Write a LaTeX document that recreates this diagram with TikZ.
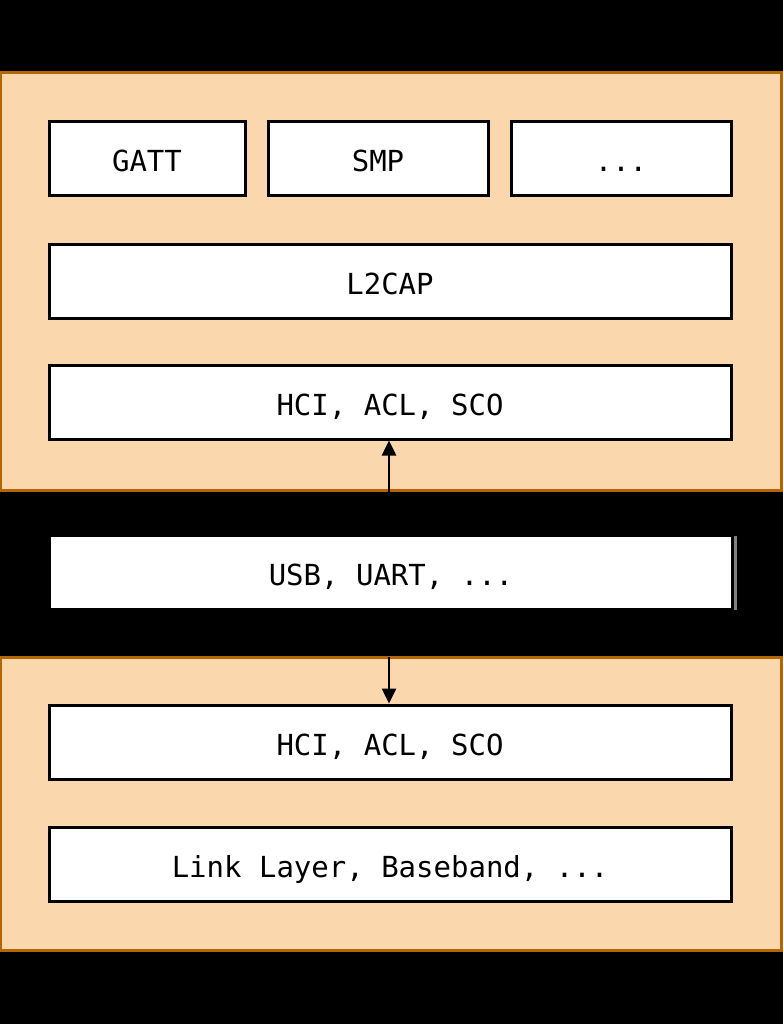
\documentclass[tikz,border=0pt]{standalone}
\usepackage{fontspec}
\setmonofont{DejaVu Sans Mono}
\usetikzlibrary{arrows.meta}
\definecolor{panelfill}{HTML}{FAD7AC}
\definecolor{panelline}{HTML}{B46504}
\tikzset{
  panel/.style={fill=panelfill, draw=panelline, line width=3pt},
  layer/.style={fill=white, draw=black, line width=3pt, inner sep=0pt,
    text height=28pt, text depth=2pt,
    font=\ttfamily\fontsize{29}{32}\selectfont},
  link/.style={line width=2.5pt, -{Triangle[length=15pt,width=14pt]}},
}
\begin{document}
\begin{tikzpicture}[x=1pt,y=-1pt]
\useasboundingbox (0,0) rectangle (783,1024);
\fill[black] (0,0) rectangle (783,1024);
% panels
\draw[panel] (0,73) rectangle (781,490);
\draw[panel] (0,657) rectangle (781,950);
% top stack
\node[layer, minimum width=196pt, minimum height=74pt] (gatt) at (147,159) {GATT};
\node[layer, minimum width=220pt, minimum height=74pt] (smp) at (378,159) {SMP};
\node[layer, minimum width=220pt, minimum height=74pt] (more) at (621,159) {...};
\node[layer, minimum width=682pt, minimum height=74pt] (l2cap) at (390,281) {L2CAP};
\node[layer, minimum width=682pt, minimum height=74pt] (hcitop) at (390,402) {HCI, ACL, SCO};
% transport
\node[layer, draw=none, minimum width=680pt, minimum height=71pt] (usb) at (391,572.5) {USB, UART, ...};
\draw[gray, line width=3pt] ([xshift=3pt]usb.north east) -- ([xshift=3pt]usb.south east);
% bottom stack
\node[layer, minimum width=682pt, minimum height=74pt] (hcibot) at (390,742) {HCI, ACL, SCO};
\node[layer, minimum width=682pt, minimum height=74pt] (ll) at (390,864) {Link Layer, Baseband, ...};
% connectors
\coordinate (upfrom) at (389,494);
\coordinate (downfrom) at (389,657);
\draw[link] (upfrom) -- (hcitop.south -| upfrom);
\draw[link] (downfrom) -- (hcibot.north -| downfrom);
\end{tikzpicture}
\end{document}
